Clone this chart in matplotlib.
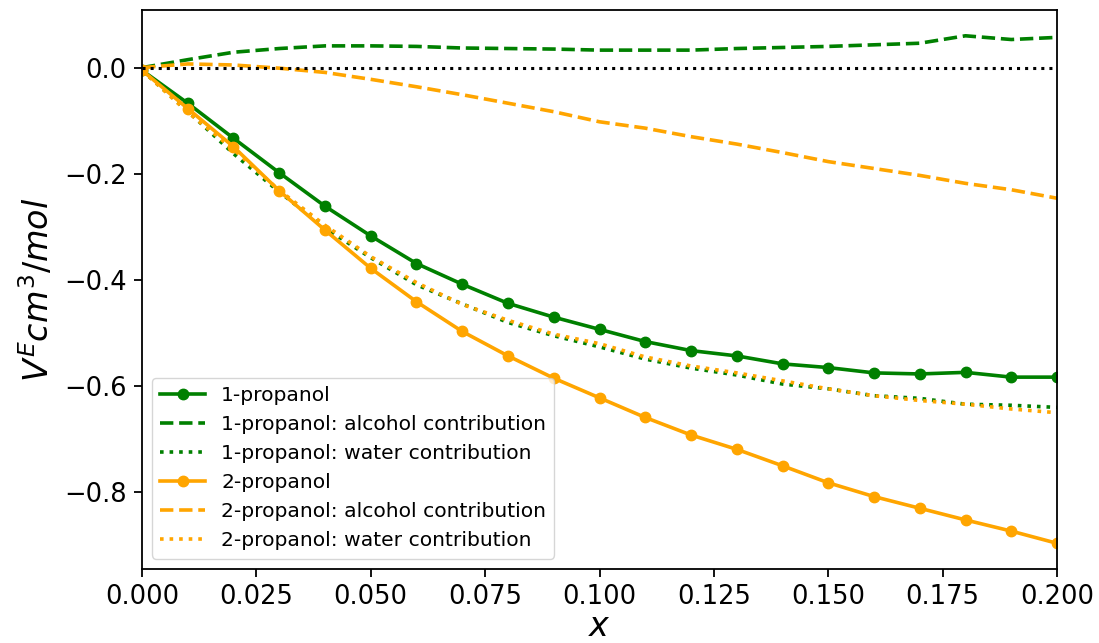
import matplotlib
matplotlib.use("Agg")
import matplotlib.pyplot as plt
import numpy as np

# mole fraction of alcohol
x = [0.00, 0.01, 0.02, 0.03, 0.04, 0.05, 0.06, 0.07, 0.08, 0.09, 0.10,
     0.11, 0.12, 0.13, 0.14, 0.15, 0.16, 0.17, 0.18, 0.19, 0.20]

# excess molar volume, 1-propanol + water
v1_total = [-0.005, -0.067, -0.133, -0.198, -0.261, -0.317, -0.369, -0.408,
            -0.444, -0.470, -0.493, -0.516, -0.533, -0.543, -0.558, -0.565,
            -0.575, -0.577, -0.574, -0.583, -0.583]
v1_alcohol = [0.000, 0.015, 0.029, 0.036, 0.041, 0.041, 0.040, 0.037,
              0.036, 0.035, 0.033, 0.033, 0.033, 0.036, 0.038, 0.040,
              0.043, 0.046, 0.060, 0.053, 0.057]
v1_water = [-0.005, -0.082, -0.162, -0.234, -0.302, -0.358, -0.409, -0.445,
            -0.480, -0.505, -0.526, -0.549, -0.566, -0.579, -0.596, -0.605,
            -0.618, -0.623, -0.634, -0.636, -0.640]

# excess molar volume, 2-propanol + water
v2_total = [-0.005, -0.077, -0.149, -0.232, -0.306, -0.378, -0.441, -0.497,
            -0.543, -0.585, -0.622, -0.659, -0.692, -0.719, -0.750, -0.782,
            -0.808, -0.830, -0.852, -0.873, -0.896]
v2_alcohol = [0.000, 0.007, 0.005, -0.001, -0.009, -0.022, -0.036, -0.051,
              -0.067, -0.083, -0.102, -0.114, -0.130, -0.144, -0.160, -0.177,
              -0.190, -0.203, -0.218, -0.230, -0.246]
v2_water = [-0.005, -0.084, -0.154, -0.231, -0.297, -0.356, -0.405, -0.446,
            -0.476, -0.502, -0.520, -0.545, -0.562, -0.575, -0.590, -0.605,
            -0.618, -0.627, -0.634, -0.643, -0.650]

plt.rcParams.update({
    "font.family": "DejaVu Sans",
    "font.size": 18.5,
    "axes.linewidth": 1.3,
    "xtick.major.size": 6,
    "ytick.major.size": 6,
    "xtick.major.width": 1.3,
    "ytick.major.width": 1.3,
    "xtick.major.pad": 5,
    "ytick.major.pad": 5,
})

fig = plt.figure(figsize=(10.99, 6.43), dpi=100)
ax = fig.add_axes([0.1292, 0.1156, 0.8326, 0.8682])

lw = 2.6
ms = 7.5
ax.plot(x, v1_total, '-o', color='green', lw=lw, ms=ms, label='1-propanol')
ax.plot(x, v1_alcohol, '--', color='green', lw=lw,
        label='1-propanol: alcohol contribution')
ax.plot(x, v1_water, ':', color='green', lw=lw,
        label='1-propanol: water contribution')
ax.plot(x, v2_total, '-o', color='orange', lw=lw, ms=ms, label='2-propanol')
ax.plot(x, v2_alcohol, '--', color='orange', lw=lw,
        label='2-propanol: alcohol contribution')
ax.plot(x, v2_water, ':', color='orange', lw=lw,
        label='2-propanol: water contribution')
ax.axhline(0, color='black', ls=':', lw=2.2)

ax.set_xlim(0, 0.2)
ax.set_xlabel('$x$', fontsize=24, labelpad=0)
ax.set_ylabel('$V^E cm^3/mol$', fontsize=24, labelpad=6)
ax.legend(loc='lower left', fontsize=14.6, handlelength=2.2)

fig.savefig('out.png', dpi=100)
